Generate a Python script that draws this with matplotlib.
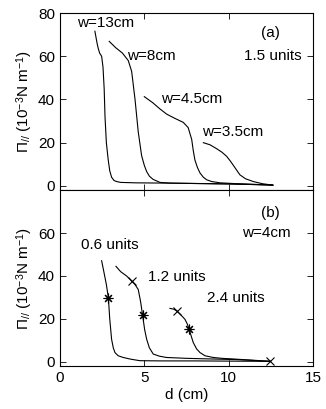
import matplotlib
matplotlib.use("Agg")
import matplotlib.pyplot as plt

plt.rcParams['font.family'] = ['Liberation Sans', 'DejaVu Sans']
plt.rcParams['mathtext.fontset'] = 'custom'
plt.rcParams['mathtext.rm'] = 'Liberation Sans'
plt.rcParams['mathtext.it'] = 'Liberation Serif'

# ---- panel (a): 1.5 units, different widths ----
w13_x = [2.07, 2.2, 2.27, 2.35, 2.47, 2.55, 2.62, 2.67, 2.75, 2.86, 2.95, 3.06, 3.2, 3.36, 3.6, 4.5, 6, 8, 10, 12.6]
w13_y = [71.6, 66, 63.6, 61.5, 60, 55, 45, 32, 20, 12, 7, 4, 2.5, 2, 1.6, 1.4, 1.3, 1.1, 0.9, 0.4]
w8_x = [2.92, 3.3, 3.7, 4.05, 4.25, 4.45, 4.64, 4.84, 5.0, 5.14, 5.3, 5.52, 5.93, 6.5, 8, 10, 12.6]
w8_y = [66.9, 64, 61.5, 58, 53, 40, 25, 14, 9.5, 6.6, 4.5, 3, 1.6, 1.3, 1.1, 0.9, 0.4]
w45_x = [5.0, 5.5, 5.93, 6.33, 6.8, 7.31, 7.6, 7.81, 7.9, 8.0, 8.15, 8.3, 8.5, 8.7, 9.0, 9.49, 10.5, 12.6]
w45_y = [41.3, 38.5, 35.6, 33.2, 31.3, 29.4, 27, 21.5, 16.5, 12, 8.5, 6, 4, 2.8, 2, 1.4, 1.0, 0.4]
w35_x = [8.5, 8.9, 9.29, 9.6, 9.88, 10.1, 10.28, 10.5, 10.67, 11.0, 11.46, 12.0, 12.65]
w35_y = [20, 19, 17.2, 15.6, 13.7, 11.5, 9.5, 7, 5.1, 3.3, 2.0, 1.0, 0.3]

# ---- panel (b): w=4cm, different amounts ----
u06_x = [2.47, 2.6, 2.75, 2.87, 2.95, 3.06, 3.16, 3.26, 3.45, 3.75, 4.2, 4.74, 6, 8, 10, 12.45]
u06_y = [47.1, 42, 36, 29.8, 20, 10.5, 6.5, 4.3, 2.8, 2, 1.2, 0.5, 0.4, 0.4, 0.3, 0.2]
u12_x = [3.32, 3.6, 3.95, 4.25, 4.45, 4.64, 4.78, 4.9, 5.02, 5.14, 5.3, 5.53, 5.9, 6.32, 7.5, 9, 10.5, 12.45]
u12_y = [44.5, 42, 40, 37.6, 36, 33.7, 28, 21.6, 15, 10.5, 6.5, 3.6, 2.6, 2, 1.6, 1.3, 1.0, 0.2]
u24_x = [6.52, 6.75, 6.92, 7.15, 7.41, 7.55, 7.66, 7.78, 7.9, 8.1, 8.3, 8.6, 9.09, 9.6, 10.27, 11.3, 12.45]
u24_y = [24.9, 24.5, 23.7, 22, 19.8, 17.6, 15.2, 12, 9, 6, 4.3, 2.8, 2, 1.6, 1.3, 0.8, 0.2]

cross_x = [4.25, 6.92, 12.45]
cross_y = [37.6, 23.7, 0.2]
star_x = [2.87, 4.9, 7.66]
star_y = [29.8, 21.6, 15.2]

xticks = [0, 5, 10, 15]
yticks_a = [0, 20, 40, 60, 80]
yticks_b = [0, 20, 40, 60]

fig = plt.figure(figsize=(3.26, 4.09), dpi=100)
ax1 = fig.add_axes([0.184, 0.535, 0.776, 0.433])
ax2 = fig.add_axes([0.184, 0.105, 0.776, 0.430])

lw = 0.8
for x, y in [(w13_x, w13_y), (w8_x, w8_y), (w45_x, w45_y), (w35_x, w35_y)]:
    ax1.plot(x, y, color='black', lw=lw)
for x, y in [(u06_x, u06_y), (u12_x, u12_y), (u24_x, u24_y)]:
    ax2.plot(x, y, color='black', lw=lw)
ax2.plot(cross_x, cross_y, linestyle='none', marker='x', ms=6, mew=0.8, color='black')
ax2.plot(star_x, star_y, linestyle='none', marker=(8, 2, 0), ms=7, mew=0.8, color='black')

fs = 11
ylabel = r'$\mathit{\Pi}_{//}$ (10$^{-3}$N m$^{-1}$)'
for ax in (ax1, ax2):
    ax.set_xlim(0, 15)
    ax.set_ylim(-2, 80)
    ax.set_xticks(xticks)
    ax.tick_params(direction='in', top=True, right=True, length=4, width=0.6, labelsize=fs)
    for s in ax.spines.values():
        s.set_linewidth(0.8)
    ax.set_ylabel(ylabel, fontsize=fs, labelpad=2)

ax1.set_yticks(yticks_a)
ax1.set_xticklabels([])
ax2.set_yticks(yticks_b)
ax2.set_xlabel('d (cm)', fontsize=fs, labelpad=2)

ax1.text(1.0, 75.3, 'w=13cm', fontsize=fs, va='center', ha='left')
ax1.text(4.0, 60.2, 'w=8cm', fontsize=fs, va='center', ha='left')
ax1.text(5.99, 40.2, 'w=4.5cm', fontsize=fs, va='center', ha='left')
ax1.text(8.44, 25.1, 'w=3.5cm', fontsize=fs, va='center', ha='left')
ax1.text(12.45, 71, '(a)', fontsize=fs, va='center', ha='center')
ax1.text(14.33, 60.2, '1.5 units', fontsize=fs, va='center', ha='right')

ax2.text(12.45, 69.4, '(b)', fontsize=fs, va='center', ha='center')
ax2.text(10.77, 60, 'w=4cm', fontsize=fs, va='center', ha='left')
ax2.text(1.24, 54.6, '0.6 units', fontsize=fs, va='center', ha='left')
ax2.text(5.24, 39.6, '1.2 units', fontsize=fs, va='center', ha='left')
ax2.text(8.73, 29.9, '2.4 units', fontsize=fs, va='center', ha='left')

fig.savefig('out.png', dpi=100)
